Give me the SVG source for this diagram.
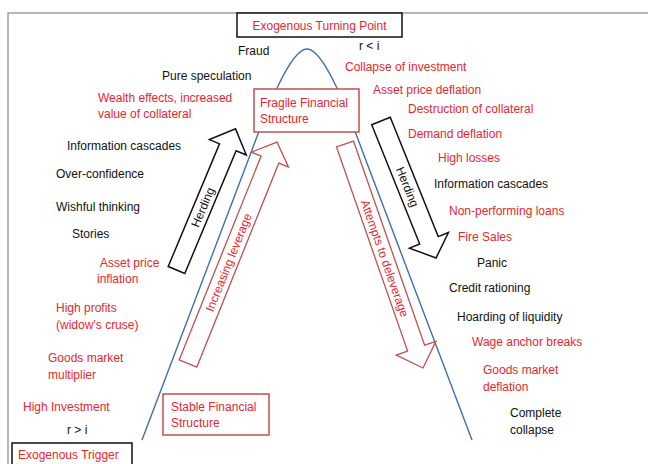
<svg xmlns="http://www.w3.org/2000/svg" width="648" height="464" viewBox="0 0 648 464">
<style>
text{font-family:"Liberation Sans",Arial,sans-serif;font-size:12px}
.r{fill:#e8262c}
.k{fill:#111}
.rbox{fill:#fff;stroke:#c0504d;stroke-width:1.5}
.kbox{fill:#fff;stroke:#111;stroke-width:1.5}
.karr{fill:#fff;stroke:#111;stroke-width:1.5;stroke-linejoin:miter}
.rarr{fill:#fff;stroke:#c0504d;stroke-width:1.3;stroke-linejoin:miter}
.curve{fill:none;stroke:#3f6fae;stroke-width:1.4}
.frame{fill:none;stroke:#a0a0a0;stroke-width:1.5}
</style>
<rect width="648" height="464" fill="#fff"/>
<path class="frame" d="M8,464 L8,13 L648,13"/>

<g id="connectors">
<path class="curve" d="M142,440 L252,150 C266,112 290,49 307,49 C324,49 348,112 362,150 L472,440"/>
<g id="arrow-herding-up" transform="translate(176.5,270) rotate(22.7)">
<polygon class="karr" points="-9,0 -9,-133 -20,-133 0,-153 20,-133 9,-133 9,0"/>
<text class="k" transform="translate(0,-68) rotate(-90)" text-anchor="middle" dy="0.35em">Herding</text>
</g>
<g id="arrow-leverage" transform="translate(188,363.5) rotate(21.9)">
<polygon class="rarr" points="-9.5,0 -9.5,-219.7 -20,-219.7 0,-238.7 20,-219.7 9.5,-219.7 9.5,0"/>
<text class="r" transform="translate(0,-109) rotate(-90)" text-anchor="middle" dy="0.35em">Increasing leverage</text>
</g>
<g id="arrow-herding-down" transform="translate(381,121) rotate(158.1)">
<polygon class="karr" points="-10,0 -10,-128.6 -21,-128.6 0,-147.6 21,-128.6 10,-128.6 10,0"/>
<text class="k" transform="translate(0,-71) rotate(-90)" text-anchor="middle" dy="0.35em">Herding</text>
</g>
<g id="arrow-deleverage" transform="translate(345,144) rotate(160.8)">
<polygon class="rarr" points="-9,0 -9,-216.2 -21,-216.2 0,-237.2 21,-216.2 9,-216.2 9,0"/>
<text class="r" transform="translate(0,-121) rotate(-90)" text-anchor="middle" dy="0.35em">Attempts to deleverage</text>
</g>
</g>

<g id="turning-point">
<rect class="kbox" x="237" y="13" width="165" height="24"/>
<text class="r" x="319.5" y="30" text-anchor="middle">Exogenous Turning Point</text>
</g>
<g id="fragile">
<rect class="rbox" x="254" y="89" width="105" height="43"/>
<text class="r" x="260" y="107">Fragile Financial</text>
<text class="r" x="260" y="123">Structure</text>
</g>
<g id="stable">
<rect class="rbox" x="163" y="394" width="106" height="41"/>
<text class="r" x="171" y="411">Stable Financial</text>
<text class="r" x="171" y="427">Structure</text>
</g>
<g id="trigger">
<rect class="kbox" x="12" y="443" width="120" height="24"/>
<text class="r" x="18" y="459">Exogenous Trigger</text>
</g>

<g id="left-labels">
<text class="k" x="238" y="55">Fraud</text>
<text class="k" x="162" y="80">Pure speculation</text>
<text class="r" x="98" y="102">Wealth effects, increased</text>
<text class="r" x="98" y="118">value of collateral</text>
<text class="k" x="67" y="150">Information cascades</text>
<text class="k" x="56" y="178">Over-confidence</text>
<text class="k" x="56" y="211">Wishful thinking</text>
<text class="k" x="72" y="238">Stories</text>
<text class="r" x="100" y="267">Asset price</text>
<text class="r" x="97" y="283">inflation</text>
<text class="r" x="56" y="312">High profits</text>
<text class="r" x="56" y="329">(widow’s cruse)</text>
<text class="r" x="48" y="362">Goods market</text>
<text class="r" x="48" y="379">multiplier</text>
<text class="r" x="23" y="411">High Investment</text>
<text class="k" x="67" y="434">r &gt; i</text>
</g>

<g id="right-labels">
<text class="k" x="359" y="50">r &lt; i</text>
<text class="r" x="345" y="71">Collapse of investment</text>
<text class="r" x="373" y="94">Asset price deflation</text>
<text class="r" x="408" y="113">Destruction of collateral</text>
<text class="r" x="408" y="138">Demand deflation</text>
<text class="r" x="438" y="162">High losses</text>
<text class="k" x="434" y="188">Information cascades</text>
<text class="r" x="449" y="215">Non-performing loans</text>
<text class="r" x="458" y="241">Fire Sales</text>
<text class="k" x="477" y="267">Panic</text>
<text class="k" x="449" y="292">Credit rationing</text>
<text class="k" x="457" y="321">Hoarding of liquidity</text>
<text class="r" x="472" y="346">Wage anchor breaks</text>
<text class="r" x="483" y="374">Goods market</text>
<text class="r" x="483" y="391">deflation</text>
<text class="k" x="510" y="417">Complete</text>
<text class="k" x="510" y="434">collapse</text>
</g>
</svg>
